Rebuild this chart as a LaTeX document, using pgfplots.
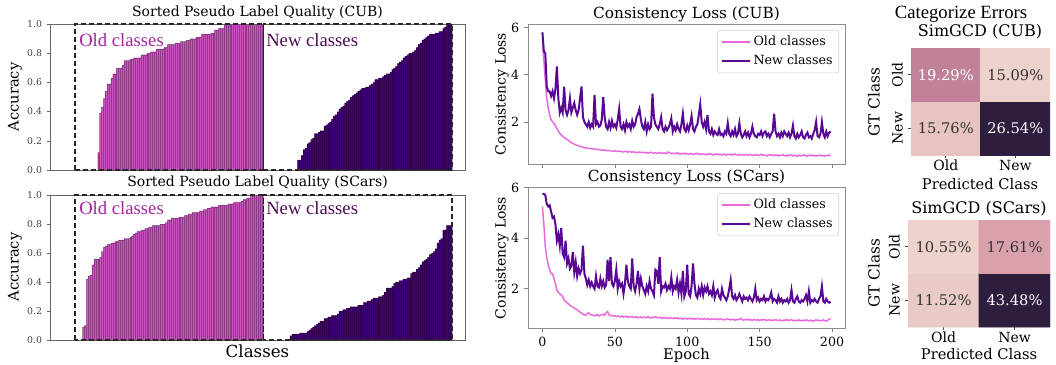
\documentclass[border=0pt]{standalone}
\usepackage{fontspec}
\setmainfont{DejaVu Serif}
\newfontfamily\tnr{Liberation Serif}
\usepackage{pgfplots}
\usepackage{pgfplotstable}
\pgfplotsset{compat=1.18}

\definecolor{oldbar}{RGB}{205,85,195}
\definecolor{newbar}{RGB}{68,0,118}
\definecolor{oldline}{RGB}{232,105,222}
\definecolor{newline}{RGB}{88,8,148}
\definecolor{oldtxt}{RGB}{165,35,165}
\definecolor{newtxt}{RGB}{80,10,85}

\pgfplotsset{
  barax/.style={anchor=north west, scale only axis, width=311.25pt,
    xmin=-13.76, xmax=206.4, ymin=0, ymax=1,
    xtick=\empty, ytick={0,0.2,0.4,0.6,0.8,1},
    yticklabels={0.0,0.2,0.4,0.6,0.8,1.0},
    ytick pos=left, tick align=outside, major tick length=2.5pt,
    every tick/.style={black!60},
    axis line style={black!60},
    ticklabel style={font=\fontsize{7}{8}\selectfont, text=black!75},
    clip=false},
  oldb/.style={ybar, bar width=1, bar shift=0pt, fill=oldbar, draw=black, draw opacity=0.3, line width=0.1pt},
  newb/.style={ybar, bar width=1, bar shift=0pt, fill=newbar, draw=black, draw opacity=0.3, line width=0.1pt},
  lossax/.style={anchor=north west, scale only axis, width=237.75pt,
    xmin=-9.95, xmax=208.95,
    xtick={0,50,100,150,200}, ytick={2,4,6}, yticklabels={2,4,6},
    tick pos=left, tick align=outside, major tick length=3pt,
    every tick/.style={black!50},
    axis line style={black!45},
    ticklabel style={font=\fontsize{9.5}{10}\selectfont},
    legend cell align=left,
    legend style={at={(rel axis cs:0.981,0.957)}, anchor=north east,
      draw=black!20, rounded corners=2pt, fill=white,
      font=\fontsize{9.5}{11}\selectfont, inner sep=2.5pt,
      row sep=1.5pt},
    legend image code/.code={\draw[##1] (0pt,0pt) -- (21pt,0pt);}},
  heatax/.style={anchor=north west, scale only axis, height=80.25pt,
    xmin=-0.5, xmax=1.5, ymin=-0.5, ymax=1.5,
    axis line style={draw=none},
    xtick={0,1}, xticklabels={Old,New},
    ytick={0,1}, yticklabels={New,Old},
    yticklabel style={rotate=90, anchor=south, inner sep=3.5pt},
    xticklabel style={inner sep=1pt},
    tick pos=left, tick align=outside, major tick length=2.5pt,
    every tick/.style={black!70},
    ticklabel style={font=\fontsize{10.5}{11}\selectfont},
    colormap={ch}{rgb255=(237,209,203) rgb255=(226,181,182) rgb255=(212,153,167)
      rgb255=(193,127,154) rgb255=(170,103,143) rgb255=(141,82,130)
      rgb255=(110,64,113) rgb255=(77,47,91) rgb255=(45,30,62)}},
}

\begin{document}
\begin{tikzpicture}
\useasboundingbox (0pt,0pt) rectangle (792pt,-273pt);

% ---------------- Bars CUB
\begin{axis}[barax, at={(37.5pt,-18pt)}, height=109.5pt]
\addplot[oldb] coordinates {(12,0.12)(13,0.39)(14,0.43)(15,0.49)(16,0.54)(17,0.59)(18,0.59)(19,0.63)(20,0.66)(21,0.66)(22,0.70)(23,0.70)(24,0.70)(25,0.72)(26,0.75)(27,0.75)(28,0.75)(29,0.76)(30,0.76)(31,0.77)(32,0.77)(33,0.77)(34,0.77)(35,0.79)(36,0.79)(37,0.79)(38,0.80)(39,0.80)(40,0.81)(41,0.81)(42,0.81)(43,0.83)(44,0.83)(45,0.83)(46,0.83)(47,0.84)(48,0.84)(49,0.86)(50,0.86)(51,0.86)(52,0.86)(53,0.87)(54,0.87)(55,0.87)(56,0.88)(57,0.88)(58,0.88)(59,0.89)(60,0.89)(61,0.90)(62,0.90)(63,0.90)(64,0.91)(65,0.91)(66,0.91)(67,0.93)(68,0.93)(69,0.93)(70,0.93)(71,0.93)(72,0.94)(73,0.94)(74,0.96)(75,0.96)(76,0.97)(77,0.97)(78,0.97)(79,1)(80,1)(81,1)(82,1)(83,1)(84,1)(85,1)(86,1)(87,1)(88,1)(89,1)(90,1)(91,1)(92,1)(93,1)(94,1)(95,1)(96,1)(97,1)(98,1)(99,1)};
\addplot[newb] coordinates {(118,0.07)(119,0.07)(120,0.10)(121,0.14)(122,0.15)(123,0.18)(124,0.19)(125,0.21)(126,0.22)(127,0.25)(128,0.25)(129,0.26)(130,0.27)(131,0.27)(132,0.30)(133,0.31)(134,0.32)(135,0.33)(136,0.35)(137,0.37)(138,0.38)(139,0.40)(140,0.42)(141,0.43)(142,0.44)(143,0.46)(144,0.47)(145,0.48)(146,0.50)(147,0.51)(148,0.52)(149,0.53)(150,0.54)(151,0.55)(152,0.56)(153,0.56)(154,0.57)(155,0.57)(156,0.58)(157,0.59)(158,0.60)(159,0.62)(160,0.62)(161,0.63)(162,0.63)(163,0.64)(164,0.65)(165,0.66)(166,0.66)(167,0.67)(168,0.69)(169,0.70)(170,0.71)(171,0.73)(172,0.74)(173,0.75)(174,0.77)(175,0.78)(176,0.79)(177,0.80)(178,0.80)(179,0.81)(180,0.82)(181,0.84)(182,0.86)(183,0.87)(184,0.89)(185,0.90)(186,0.91)(187,0.92)(188,0.93)(189,0.93)(190,0.93)(191,0.94)(192,0.94)(193,0.95)(194,0.95)(195,0.97)(196,0.98)(197,1)(198,1)(199,1)};
\draw[black!85, line width=1.1pt, dash pattern=on 3.75pt off 2.25pt] (axis cs:-0.5,0) rectangle (axis cs:99.5,1);
\draw[black!85, line width=1.1pt, dash pattern=on 3.75pt off 2.25pt] (axis cs:99.5,0) rectangle (axis cs:199.5,1);
\end{axis}

% ---------------- Bars SCars
\begin{axis}[barax, at={(37.5pt,-146.25pt)}, height=108.75pt]
\addplot[oldb] coordinates {(4,0.09)(5,0.10)(6,0.42)(7,0.44)(8,0.45)(9,0.52)(10,0.56)(11,0.56)(12,0.56)(13,0.57)(14,0.61)(15,0.64)(16,0.65)(17,0.66)(18,0.66)(19,0.67)(20,0.67)(21,0.68)(22,0.68)(23,0.69)(24,0.69)(25,0.69)(26,0.70)(27,0.70)(28,0.70)(29,0.71)(30,0.72)(31,0.73)(32,0.74)(33,0.75)(34,0.75)(35,0.76)(36,0.76)(37,0.77)(38,0.77)(39,0.78)(40,0.78)(41,0.79)(42,0.79)(43,0.79)(44,0.79)(45,0.80)(46,0.80)(47,0.80)(48,0.81)(49,0.83)(50,0.83)(51,0.84)(52,0.84)(53,0.84)(54,0.84)(55,0.85)(56,0.85)(57,0.85)(58,0.86)(59,0.86)(60,0.87)(61,0.87)(62,0.88)(63,0.88)(64,0.88)(65,0.88)(66,0.89)(67,0.89)(68,0.90)(69,0.90)(70,0.91)(71,0.91)(72,0.92)(73,0.92)(74,0.92)(75,0.92)(76,0.93)(77,0.93)(78,0.93)(79,0.93)(80,0.93)(81,0.94)(82,0.94)(83,0.94)(84,0.95)(85,0.95)(86,0.95)(87,0.95)(88,0.96)(89,0.97)(90,0.97)(91,0.98)(92,0.98)(93,1)(94,1)(95,1)(96,1)(97,1)(98,1)(99,1)};
\addplot[newb] coordinates {(114,0.03)(115,0.04)(116,0.04)(117,0.04)(118,0.04)(119,0.05)(120,0.05)(121,0.05)(122,0.05)(123,0.06)(124,0.07)(125,0.08)(126,0.09)(127,0.10)(128,0.11)(129,0.12)(130,0.13)(131,0.13)(132,0.15)(133,0.15)(134,0.16)(135,0.16)(136,0.17)(137,0.17)(138,0.17)(139,0.18)(140,0.20)(141,0.20)(142,0.21)(143,0.21)(144,0.22)(145,0.22)(146,0.23)(147,0.23)(148,0.23)(149,0.23)(150,0.24)(151,0.24)(152,0.24)(153,0.26)(154,0.26)(155,0.27)(156,0.27)(157,0.28)(158,0.29)(159,0.29)(160,0.29)(161,0.30)(162,0.30)(163,0.31)(164,0.33)(165,0.36)(166,0.36)(167,0.36)(168,0.37)(169,0.39)(170,0.40)(171,0.40)(172,0.41)(173,0.41)(174,0.42)(175,0.42)(176,0.43)(177,0.43)(178,0.46)(179,0.47)(180,0.47)(181,0.49)(182,0.50)(183,0.52)(184,0.54)(185,0.55)(186,0.56)(187,0.57)(188,0.59)(189,0.60)(190,0.61)(191,0.63)(192,0.67)(193,0.69)(194,0.70)(195,0.76)(196,0.76)(197,0.79)(198,0.79)(199,0.79)};
\draw[black!85, line width=1.1pt, dash pattern=on 3.75pt off 2.25pt] (axis cs:-0.5,0) rectangle (axis cs:99.5,1);
\draw[black!85, line width=1.1pt, dash pattern=on 3.75pt off 2.25pt] (axis cs:99.5,0) rectangle (axis cs:199.5,1);
\end{axis}

% ---------------- Loss CUB
\begin{axis}[lossax, at={(396pt,-18pt)}, height=105pt, ymin=0.22, ymax=6.15, xticklabels={}]
\addplot[oldline, line width=1.1pt] table[row sep=\\, header=false, x expr=\coordindex, y index=0] {
5.3\\4.6\\3.75\\3.0\\2.6\\2.3\\2.1\\2.0\\1.95\\1.85\\
1.72\\1.62\\1.52\\1.46\\1.4\\1.34\\1.3\\1.26\\1.22\\1.17\\
1.12\\1.09\\1.06\\1.03\\1.0\\0.99\\0.97\\0.95\\0.93\\0.91\\
0.9\\0.89\\0.88\\0.87\\0.86\\0.87\\0.85\\0.84\\0.83\\0.84\\
0.82\\0.81\\0.8\\0.82\\0.79\\0.78\\0.8\\0.77\\0.77\\0.76\\
0.78\\0.76\\0.75\\0.77\\0.74\\0.75\\0.73\\0.76\\0.74\\0.72\\
0.75\\0.73\\0.72\\0.74\\0.71\\0.72\\0.7\\0.73\\0.71\\0.7\\
0.72\\0.69\\0.71\\0.68\\0.7\\0.72\\0.69\\0.68\\0.7\\0.67\\
0.69\\0.71\\0.68\\0.67\\0.7\\0.66\\0.68\\0.73\\0.69\\0.66\\
0.68\\0.67\\0.65\\0.7\\0.66\\0.64\\0.67\\0.65\\0.68\\0.64\\
0.66\\0.63\\0.67\\0.65\\0.62\\0.66\\0.64\\0.68\\0.63\\0.65\\
0.62\\0.66\\0.63\\0.61\\0.65\\0.63\\0.66\\0.62\\0.6\\0.64\\
0.62\\0.65\\0.61\\0.63\\0.6\\0.64\\0.62\\0.59\\0.63\\0.61\\
0.64\\0.6\\0.62\\0.65\\0.61\\0.59\\0.63\\0.6\\0.62\\0.58\\
0.61\\0.63\\0.59\\0.62\\0.6\\0.57\\0.61\\0.59\\0.62\\0.58\\
0.6\\0.63\\0.58\\0.61\\0.59\\0.56\\0.6\\0.62\\0.58\\0.6\\
0.57\\0.61\\0.59\\0.56\\0.6\\0.58\\0.62\\0.57\\0.59\\0.55\\
0.6\\0.58\\0.61\\0.56\\0.59\\0.57\\0.55\\0.6\\0.58\\0.56\\
0.59\\0.61\\0.57\\0.55\\0.59\\0.57\\0.6\\0.56\\0.58\\0.55\\
0.59\\0.57\\0.6\\0.56\\0.58\\0.55\\0.59\\0.57\\0.6\\0.58\\
};
\addplot[newline, line width=1.5pt] table[row sep=\\, header=false, x expr=\coordindex, y index=0] {
5.8\\5.0\\4.9\\3.5\\3.3\\3.3\\3.1\\3.3\\3.0\\3.4\\
4.35\\3.0\\2.4\\2.6\\2.4\\3.5\\2.5\\2.3\\2.5\\3.0\\
2.4\\2.6\\2.8\\2.5\\2.3\\2.5\\3.0\\3.5\\2.2\\2.0\\
1.9\\1.8\\2.0\\1.75\\1.9\\1.8\\3.15\\1.9\\2.0\\1.8\\
1.85\\2.1\\3.05\\2.2\\1.8\\1.7\\2.0\\1.75\\2.05\\1.8\\
1.9\\1.75\\2.1\\2.55\\1.8\\1.7\\1.9\\1.65\\2.0\\1.8\\
1.9\\1.7\\2.05\\1.8\\1.9\\2.2\\2.35\\2.55\\2.1\\1.8\\
1.7\\2.0\\1.6\\1.9\\1.7\\1.8\\3.2\\2.2\\1.9\\1.8\\
1.7\\1.9\\2.2\\1.7\\1.6\\1.8\\1.65\\1.75\\1.9\\2.15\\
1.6\\1.8\\1.65\\1.9\\1.7\\1.6\\1.9\\2.35\\1.7\\1.6\\
1.85\\1.65\\1.9\\2.25\\1.7\\1.6\\1.8\\1.9\\2.3\\2.75\\
2.0\\1.8\\2.0\\1.7\\2.3\\1.6\\1.5\\1.7\\1.45\\1.6\\
1.5\\1.45\\1.7\\1.45\\1.5\\1.4\\1.6\\1.5\\1.95\\1.5\\
1.4\\1.6\\1.45\\1.7\\1.4\\1.5\\1.95\\1.5\\1.35\\1.45\\
1.6\\1.4\\1.55\\1.35\\1.5\\1.8\\1.5\\1.4\\1.35\\1.5\\
1.45\\1.6\\1.4\\1.55\\1.6\\1.4\\1.5\\1.35\\1.5\\1.6\\
2.35\\1.6\\1.4\\1.5\\1.35\\1.55\\1.4\\1.6\\1.5\\1.4\\
1.55\\1.35\\1.5\\1.85\\1.4\\1.3\\1.5\\1.35\\1.45\\1.6\\
1.35\\1.3\\1.45\\1.55\\1.35\\1.4\\1.3\\1.5\\1.65\\2.0\\
1.4\\1.35\\1.5\\2.0\\1.5\\1.35\\1.6\\1.4\\1.55\\1.6\\
};
\legend{Old classes, New classes}
\end{axis}

% ---------------- Loss SCars
\begin{axis}[lossax, at={(396pt,-140.25pt)}, height=105.75pt, ymin=0.45, ymax=6.02, xticklabels={0,50,100,150,200}]
\addplot[oldline, line width=1.1pt] table[row sep=\\, header=false, x expr=\coordindex, y index=0] {
5.25\\4.55\\3.65\\3.25\\2.95\\2.75\\2.6\\2.6\\2.4\\2.2\\
1.95\\1.85\\1.8\\1.75\\1.7\\1.55\\1.5\\1.45\\1.4\\1.35\\
1.3\\1.28\\1.24\\1.2\\1.17\\1.12\\1.08\\1.04\\1.0\\0.96\\
0.95\\1.02\\1.05\\0.98\\0.97\\0.95\\0.93\\0.96\\0.98\\0.92\\
0.95\\0.97\\1.0\\0.95\\1.05\\1.1\\0.98\\0.93\\0.95\\0.92\\
0.94\\0.9\\0.93\\0.91\\0.89\\0.92\\0.88\\0.9\\0.92\\0.87\\
0.9\\0.88\\0.91\\0.86\\0.88\\0.9\\0.85\\0.87\\0.89\\0.86\\
0.88\\0.85\\0.87\\0.9\\0.86\\0.84\\0.88\\0.86\\0.9\\0.87\\
0.85\\0.88\\0.84\\0.86\\0.83\\0.87\\0.85\\0.82\\0.86\\0.84\\
0.82\\0.85\\0.83\\0.86\\0.81\\0.84\\0.82\\0.8\\0.84\\0.82\\
0.8\\0.83\\0.81\\0.84\\0.8\\0.82\\0.79\\0.83\\0.81\\0.79\\
0.82\\0.8\\0.83\\0.79\\0.81\\0.8\\0.78\\0.82\\0.8\\0.79\\
0.81\\0.78\\0.8\\0.82\\0.79\\0.77\\0.8\\0.78\\0.81\\0.79\\
0.77\\0.8\\0.78\\0.76\\0.79\\0.77\\0.8\\0.83\\0.78\\0.76\\
0.79\\0.77\\0.8\\0.76\\0.78\\0.75\\0.79\\0.77\\0.76\\0.78\\
0.75\\0.78\\0.76\\0.79\\0.77\\0.74\\0.78\\0.76\\0.74\\0.77\\
0.75\\0.78\\0.76\\0.74\\0.77\\0.75\\0.73\\0.77\\0.75\\0.78\\
0.74\\0.76\\0.78\\0.75\\0.73\\0.76\\0.74\\0.77\\0.75\\0.73\\
0.76\\0.74\\0.77\\0.75\\0.73\\0.76\\0.74\\0.72\\0.75\\0.77\\
0.74\\0.76\\0.73\\0.75\\0.77\\0.74\\0.72\\0.75\\0.8\\0.82\\
};
\addplot[newline, line width=1.5pt] table[row sep=\\, header=false, x expr=\coordindex, y index=0] {
5.75\\5.75\\5.7\\5.35\\5.25\\5.3\\5.05\\4.8\\4.85\\4.55\\
3.9\\4.15\\3.7\\4.4\\3.4\\3.25\\3.9\\3.0\\3.2\\2.8\\
2.9\\3.45\\2.65\\3.05\\2.5\\2.8\\2.6\\2.75\\3.7\\2.6\\
2.4\\2.15\\2.35\\2.1\\2.25\\2.1\\2.0\\2.5\\2.1\\2.05\\
2.4\\2.1\\2.3\\2.05\\2.15\\3.15\\2.3\\3.25\\2.2\\2.1\\
2.3\\2.75\\2.0\\2.3\\2.1\\2.2\\1.8\\2.2\\2.95\\2.3\\
2.1\\2.0\\3.2\\2.1\\1.9\\2.2\\2.7\\2.0\\2.4\\2.1\\
1.95\\1.8\\2.1\\1.9\\2.3\\2.0\\1.9\\1.75\\2.75\\2.7\\
2.2\\3.25\\1.9\\2.1\\2.05\\2.2\\1.95\\2.1\\2.0\\2.45\\
1.9\\2.1\\2.0\\2.35\\1.85\\2.2\\1.8\\2.7\\1.7\\1.9\\
2.95\\1.8\\1.7\\2.1\\3.0\\2.2\\1.75\\1.65\\2.0\\1.8\\
2.1\\1.75\\2.05\\1.9\\2.1\\1.8\\1.9\\1.75\\2.1\\1.65\\
1.85\\1.95\\1.7\\1.6\\2.0\\1.75\\1.65\\1.55\\1.7\\2.0\\
2.35\\1.7\\1.6\\1.75\\1.55\\1.65\\1.8\\1.65\\1.5\\1.7\\
1.6\\1.65\\1.55\\1.7\\1.6\\1.5\\1.65\\2.0\\1.55\\1.65\\
1.5\\1.6\\1.55\\1.7\\1.5\\1.6\\1.55\\1.65\\1.85\\1.5\\
1.6\\1.55\\1.45\\1.7\\1.5\\1.6\\1.45\\1.55\\1.5\\1.6\\
1.45\\1.55\\1.95\\1.5\\1.45\\1.6\\1.7\\1.5\\1.45\\1.55\\
1.5\\1.6\\1.75\\1.5\\1.9\\1.45\\1.55\\1.5\\1.6\\1.5\\
1.45\\1.6\\1.7\\2.1\\1.5\\1.45\\1.6\\1.5\\1.45\\1.48\\
};
\legend{Old classes, New classes}
\end{axis}

% ---------------- Heatmap CUB
\begin{axis}[heatax, at={(683.25pt,-36pt)}, width=104.25pt]
\addplot[matrix plot*, mesh/cols=2, point meta=explicit] table[row sep=\\, meta=c] {
x y c\\ 0 0 15.76\\ 1 0 26.54\\ 0 1 19.29\\ 1 1 15.09\\};
\node[font=\fontsize{11}{12}\selectfont, text=white] at (axis cs:0,1) {19.29\%};
\node[font=\fontsize{11}{12}\selectfont, text=black!80] at (axis cs:1,1) {15.09\%};
\node[font=\fontsize{11}{12}\selectfont, text=black!80] at (axis cs:0,0) {15.76\%};
\node[font=\fontsize{11}{12}\selectfont, text=white] at (axis cs:1,0) {26.54\%};
\end{axis}

% ---------------- Heatmap SCars
\begin{axis}[heatax, at={(681pt,-165pt)}, width=106.5pt]
\addplot[matrix plot*, mesh/cols=2, point meta=explicit] table[row sep=\\, meta=c] {
x y c\\ 0 0 11.52\\ 1 0 43.48\\ 0 1 10.55\\ 1 1 17.61\\};
\node[font=\fontsize{11}{12}\selectfont, text=black!80] at (axis cs:0,1) {10.55\%};
\node[font=\fontsize{11}{12}\selectfont, text=black!80] at (axis cs:1,1) {17.61\%};
\node[font=\fontsize{11}{12}\selectfont, text=black!80] at (axis cs:0,0) {11.52\%};
\node[font=\fontsize{11}{12}\selectfont, text=white] at (axis cs:1,0) {43.48\%};
\end{axis}

% ---------------- Texts
\begin{scope}[x=0.75pt, y=-0.75pt]
\node[font=\fontsize{10.5}{12}\selectfont] at (257.5,13) {Sorted Pseudo Label Quality (CUB)};
\node[font=\fontsize{10.5}{12}\selectfont] at (257.5,183) {Sorted Pseudo Label Quality (SCars)};
\node[font=\fontsize{11}{12}\selectfont, rotate=90] at (15,97) {Accuracy};
\node[font=\fontsize{11}{12}\selectfont, rotate=90] at (15,267) {Accuracy};
\node[font=\fontsize{12.5}{14}\selectfont] at (257.5,351) {Classes};
\node[font=\tnr\fontsize{14}{16}\selectfont, text=oldtxt, anchor=west, inner sep=0pt] at (79,40) {Old classes};
\node[font=\tnr\fontsize{14}{16}\selectfont, text=newtxt, anchor=west, inner sep=0pt] at (266,40) {New classes};
\node[font=\tnr\fontsize{14}{16}\selectfont, text=oldtxt, anchor=west, inner sep=0pt] at (79,208) {Old classes};
\node[font=\tnr\fontsize{14}{16}\selectfont, text=newtxt, anchor=west, inner sep=0pt] at (266,208) {New classes};
\node[font=\fontsize{11.5}{13}\selectfont] at (686.5,14) {Consistency Loss (CUB)};
\node[font=\fontsize{11.5}{13}\selectfont] at (686.5,177) {Consistency Loss (SCars)};
\node[font=\fontsize{10.5}{12}\selectfont, rotate=90] at (502,94) {Consistency Loss};
\node[font=\fontsize{10.5}{12}\selectfont, rotate=90] at (502,258) {Consistency Loss};
\node[font=\fontsize{11}{12}\selectfont] at (686.5,355) {Epoch};
\node[font=\tnr\fontsize{14}{16}\selectfont] at (961,14) {Categorize Errors};
\node[font=\fontsize{12}{14}\selectfont] at (980,32) {SimGCD (CUB)};
\node[font=\fontsize{12}{14}\selectfont] at (979,209) {SimGCD (SCars)};
\node[font=\fontsize{11.5}{13}\selectfont, rotate=90] at (874,102) {GT Class};
\node[font=\fontsize{11.5}{13}\selectfont, rotate=90] at (874,273) {GT Class};
\node[font=\fontsize{11}{13}\selectfont] at (980,184) {Predicted Class};
\node[font=\fontsize{11}{13}\selectfont] at (979,354) {Predicted Class};
\end{scope}
\end{tikzpicture}
\end{document}
